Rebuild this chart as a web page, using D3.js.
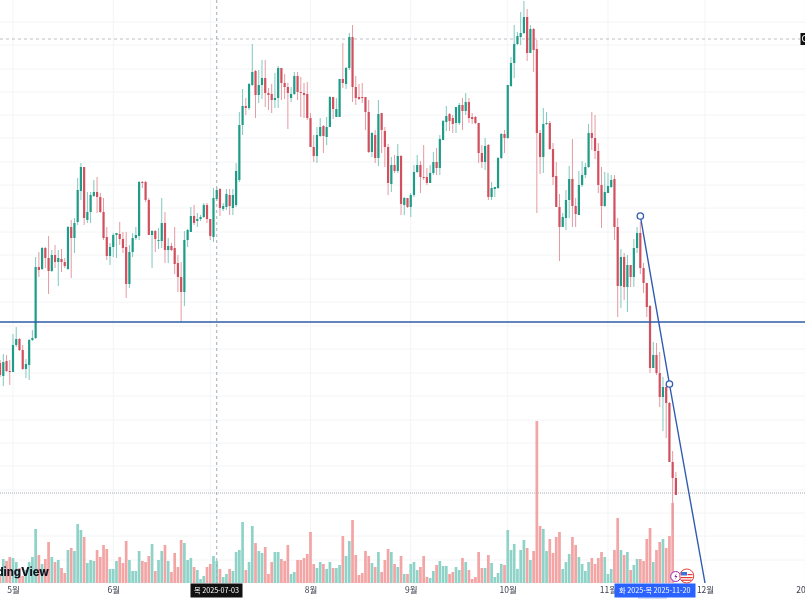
<!DOCTYPE html>
<html>
<head>
<meta charset="utf-8">
<script src="https://cdn.jsdelivr.net/npm/d3@7"></script>
<style>
  html, body { margin: 0; padding: 0; background: #fff; overflow: hidden; }
  svg { display: block; }
  text { font-family: "Noto Sans CJK KR", "Noto Sans", sans-serif; }
</style>
</head>
<body>
<svg id="chart" width="805" height="600"></svg>
<script>
const firstDay = "2025-04-27";
const opens = [
  93.7,92.4,93.9,92.9,92.8,95.5,96.1,95.0,93.1,93.5,
  96.0,96.2,103.3,103.1,105.2,104.2,102.9,104.5,103.8,104.1,
  103.8,103.1,107.3,106.2,107.8,110.9,113.3,108.0,108.8,110.4,
  110.8,110.3,108.8,106.3,104.4,105.3,106.5,106.6,106.1,105.3,
  101.6,104.8,106.2,106.4,111.8,111.8,110.0,106.5,106.9,105.9,
  105.9,107.7,105.0,105.4,105.2,103.7,102.3,100.8,106.0,106.8,
  108.4,107.9,108.1,108.3,109.5,108.1,106.3,110.1,111.1,109.1,
  109.3,110.5,109.2,109.5,112.0,117.5,119.4,119.2,121.5,122.9,
  120.5,121.5,122.2,120.7,120.6,120.0,120.2,123.2,121.7,121.3,
  120.2,120.6,122.4,120.8,120.7,120.6,118.2,115.3,114.4,116.4,
  117.4,116.3,117.3,120.3,118.3,118.3,122.1,121.6,123.2,126.3,
  121.3,120.3,120.3,120.3,118.8,114.8,116.5,114.2,118.7,116.9,
  115.3,111.6,113.5,112.9,114.4,109.5,110.2,109.3,110.5,112.8,
  113.5,112.3,112.3,111.7,112.7,113.8,113.2,116.0,117.8,118.6,
  118.2,117.7,117.7,119.5,118.9,119.8,118.3,118.3,117.7,114.7,
  113.8,115.5,110.3,111.1,111.2,114.2,116.6,116.2,121.4,123.7,
  125.6,126.3,126.7,128.3,124.7,127.1,125.1,116.7,114.3,117.6,
  117.7,115.1,112.4,109.3,107.3,108.2,110.0,112.1,109.4,108.5,
  111.5,112.5,113.3,116.7,116.2,114.9,111.5,109.4,110.7,111.3,
  112.1,107.3,101.4,104.3,101.3,103.5,102.3,105.2,106.7,103.2,
  101.7,99.4,93.2,94.5,92.7,90.3,91.3,89.7,83.8,82.2
];
const closes = [
  92.5,93.8,92.9,92.8,95.5,96.1,95.0,93.1,93.6,96.0,
  96.2,103.3,103.0,105.2,104.2,102.9,104.5,103.8,104.2,103.8,
  103.4,107.3,106.2,107.7,111.0,113.3,108.2,108.8,110.5,110.8,
  110.3,108.8,106.2,104.4,105.3,106.5,106.7,106.1,105.2,101.6,
  104.8,106.2,106.5,111.8,111.7,110.0,106.5,106.9,106.1,106.0,
  107.7,105.0,105.4,105.0,103.6,102.3,100.8,106.0,107.0,108.4,
  107.7,108.1,108.3,109.5,108.1,106.4,110.2,111.0,109.2,109.4,
  110.6,109.4,110.5,112.9,117.5,119.4,119.2,121.6,122.8,120.5,
  121.5,122.2,120.7,120.5,120.0,120.2,123.2,121.7,121.3,120.7,
  120.6,122.4,120.8,120.7,120.5,118.2,115.3,114.4,116.5,117.3,
  116.4,117.3,120.3,119.1,119.1,122.1,121.7,123.2,126.3,121.3,
  120.2,120.1,120.2,118.8,114.8,116.7,114.2,118.6,117.0,115.3,
  111.7,113.5,112.9,114.4,109.6,110.2,109.3,110.5,112.8,113.5,
  112.3,112.2,111.7,112.7,113.8,113.2,116.1,117.9,118.4,117.9,
  117.6,119.3,119.5,118.9,119.8,118.2,118.1,117.7,114.7,113.8,
  115.4,110.3,111.2,111.3,114.2,116.6,116.2,121.5,123.7,125.6,
  126.4,126.7,128.3,124.7,127.1,125.0,116.7,114.3,117.6,117.7,
  115.1,112.3,109.3,107.3,108.3,110.0,112.1,109.4,108.6,111.5,
  112.5,113.3,116.7,116.2,114.9,111.5,109.4,110.8,111.4,112.0,
  107.3,101.4,104.3,101.3,103.5,102.3,105.2,106.7,103.2,101.7,
  99.3,93.2,94.5,92.7,90.3,91.3,89.7,83.8,82.2,80.5
];
const highs = [
  94.0,94.6,94.5,94.0,96.6,97.3,96.2,95.5,94.1,96.1,
  97.0,104.3,104.8,105.3,105.3,106.4,105.0,105.5,105.0,105.1,
  104.2,107.4,108.0,108.2,112.2,113.7,113.3,110.8,110.8,112.0,
  112.3,110.7,110.2,107.3,105.7,106.7,106.7,107.8,106.8,106.8,
  105.5,106.7,107.3,111.9,111.9,111.9,110.2,107.0,107.0,107.2,
  110.2,108.8,106.2,105.7,107.3,104.5,103.8,106.9,107.1,109.3,
  109.5,108.7,108.5,109.7,109.7,108.1,111.2,111.3,111.2,109.7,
  111.1,111.1,111.1,113.7,118.8,121.1,120.2,121.7,125.6,123.0,
  123.0,124.0,124.0,121.2,121.6,122.7,123.4,123.2,122.6,121.7,
  121.3,122.8,122.8,122.3,121.7,121.8,118.7,116.5,117.3,118.2,
  117.5,118.3,120.4,120.3,120.2,122.1,125.7,123.3,126.7,127.5,
  122.4,121.6,121.7,120.3,120.0,116.8,117.0,120.0,118.7,117.3,
  115.6,114.3,114.5,115.6,114.5,110.3,110.2,110.7,113.5,114.5,
  113.9,115.5,113.2,113.5,114.8,115.2,116.5,118.0,119.4,118.7,
  118.5,119.3,119.7,120.2,120.7,120.2,118.7,118.4,117.7,115.5,
  116.2,115.6,111.8,111.3,114.3,116.7,117.0,121.5,124.3,127.5,
  126.8,128.8,129.9,129.1,127.5,127.2,126.0,117.0,119.2,118.8,
  117.9,115.7,113.8,110.6,108.7,111.0,113.4,116.1,110.2,112.9,
  113.9,113.7,117.6,118.8,118.5,115.7,113.3,112.8,112.7,112.5,
  112.5,108.2,105.1,104.7,104.5,103.5,106.1,107.3,107.8,103.7,
  101.7,99.5,95.8,95.7,94.8,92.3,91.5,89.8,84.9,82.8
];
const lows = [
  92.3,91.4,92.8,91.5,92.8,95.3,94.9,93.0,92.2,92.0,
  95.9,96.1,102.3,103.0,103.2,100.6,102.8,103.2,101.4,102.8,
  103.2,103.0,102.2,104.7,107.5,110.0,107.5,107.7,107.7,110.3,
  108.7,108.7,106.0,104.0,103.5,104.3,104.2,105.5,104.7,100.2,
  101.2,104.3,106.0,106.0,111.2,109.8,106.5,103.2,104.8,105.1,
  105.2,103.7,103.7,104.9,102.6,100.8,97.8,99.4,105.3,106.8,
  107.5,107.3,107.9,108.2,107.7,106.0,105.8,109.9,108.4,108.9,
  109.0,108.5,108.5,109.3,111.8,116.5,118.5,119.0,121.4,118.2,
  119.7,120.1,119.3,119.0,118.7,119.2,119.2,120.0,120.1,117.1,
  119.8,120.5,120.0,118.3,118.2,118.0,115.3,113.8,113.7,116.3,
  114.7,115.5,117.3,118.1,118.3,118.3,121.2,121.1,123.0,119.8,
  119.5,120.0,119.7,117.0,114.7,114.3,113.7,113.4,114.7,113.3,
  110.5,110.8,112.7,112.7,108.5,108.5,109.2,108.3,110.3,112.7,
  110.7,112.0,111.5,111.7,112.5,112.5,112.5,116.0,116.9,116.9,
  116.7,116.7,117.5,117.0,118.5,117.7,117.6,117.6,113.7,113.2,
  113.0,110.0,110.0,110.3,111.1,114.1,114.7,116.1,121.3,122.2,
  125.5,125.5,126.6,123.9,124.7,122.8,108.7,112.6,112.7,117.5,
  115.0,111.5,109.3,103.9,107.3,107.0,108.2,107.3,107.3,108.5,
  111.3,112.2,113.2,115.0,114.1,110.7,107.2,109.3,110.7,111.2,
  106.0,98.3,99.2,100.0,98.8,101.3,101.3,104.7,102.6,100.7,
  98.3,92.7,93.2,92.5,89.3,86.9,86.2,83.8,77.0,80.5
];
const volumes = [
  7,24,22,26,25,21,15,7,13,21,
  26,54,28,19,24,41,26,21,23,15,
  10,33,35,32,59,53,46,20,23,22,
  33,26,38,34,14,14,22,26,20,42,
  23,12,12,32,22,21,27,39,12,23,
  32,38,22,11,30,16,43,40,23,25,
  16,13,4,7,16,19,27,22,14,6,
  9,14,12,31,33,61,13,21,57,40,
  32,30,36,9,21,31,31,24,22,38,
  9,11,23,23,25,29,51,19,15,21,
  19,14,21,15,15,18,47,27,42,63,
  28,8,10,32,27,20,16,31,11,23,
  34,31,19,16,27,9,9,19,21,13,
  16,27,6,5,12,18,22,17,17,9,
  11,16,13,25,21,13,4,6,31,15,
  15,28,20,6,10,19,18,53,33,39,
  14,33,43,35,23,32,162,57,54,32,
  44,30,46,51,14,21,29,46,38,26,
  19,12,21,25,19,25,31,26,9,14,
  33,65,33,28,31,13,18,24,24,22,
  44,55,21,33,41,44,35,47,80,0
];

// the july label sits behind the crosshair date tag, so it stays empty
const monthDates = ["2025-05-01","2025-06-01","2025-07-01","2025-08-01","2025-09-01","2025-10-01","2025-11-01","2025-12-01","2026-01-01"];
const monthLabels = ["5월","6월","","8월","9월","10월","11월","12월","2026"];
const gridPrices = [127.8,125.5,123.1,120.8,118.5,116.2,113.8,111.5,109.2,106.8,104.5,102.1,99.8,97.4,95.1,92.7,90.4,88.0,85.7,83.4,81.0,78.7,76.4,74.0];

const supportPrice = 97.8;
const highPrice = 126.1;
const lastPrice = 80.7;
const crossDate = "2025-07-03";
const trendDates = ["2025-11-11","2025-11-20","2025-12-01"];
const trendPrices = [108.4,91.6,71.7];

const width = 805;
const height = 600;
const paneBottom = 583;

const parseDay = d3.utcParse("%Y-%m-%d");
const candles = opens.map((o, i) => ({
  date: d3.utcDay.offset(parseDay(firstDay), i),
  open: o, high: highs[i], low: lows[i], close: closes[i], volume: volumes[i],
}));

const x = d3.scaleUtc()
  .domain([parseDay("2025-05-01"), parseDay("2025-12-01")])
  .range([13, 705]);
const y = d3.scaleLinear().domain([70, 130]).range([height, 0]);
const yVol = d3.scaleLinear().domain([0, 200]).range([paneBottom, paneBottom - 200]);

const upBody = "#1f9c88", downBody = "#d24f5e";
const upWick = "#7fc9bd", downWick = "#e59aa3";
const upVol = "#8fd3c8", downVol = "#f3a4a4";
const isUp = (d) => d.close >= d.open;

const svg = d3.select("#chart");
const root = svg.append("g").style("filter", "blur(0.45px)");

// grid
root.append("g").selectAll("line").data(gridPrices).join("line")
  .attr("x1", 0).attr("x2", width)
  .attr("y1", (d) => y(d)).attr("y2", (d) => y(d))
  .attr("stroke", "#f3f4f6");
root.append("g").selectAll("line").data(monthDates).join("line")
  .attr("x1", (d) => x(parseDay(d))).attr("x2", (d) => x(parseDay(d)))
  .attr("y1", 0).attr("y2", paneBottom)
  .attr("stroke", "#f3f4f6");

// volume pane
root.append("g").selectAll("rect").data(candles).join("rect")
  .attr("x", (d) => x(d.date) - 1.35)
  .attr("width", 2.7)
  .attr("y", (d) => yVol(d.volume))
  .attr("height", (d) => paneBottom - yVol(d.volume))
  .attr("fill", (d) => (isUp(d) ? upVol : downVol));

// dashed and dotted price lines
root.append("line")
  .attr("x1", 0).attr("x2", 800)
  .attr("y1", y(highPrice)).attr("y2", y(highPrice))
  .attr("stroke", "#bcbfc6").attr("stroke-dasharray", "3 3");
root.append("line")
  .attr("x1", 0).attr("x2", width)
  .attr("y1", y(lastPrice)).attr("y2", y(lastPrice))
  .attr("stroke", "#a9adb5").attr("stroke-dasharray", "1 1");
root.append("line")
  .attr("x1", x(parseDay(crossDate))).attr("x2", x(parseDay(crossDate)))
  .attr("y1", 0).attr("y2", paneBottom)
  .attr("stroke", "#a6a9b0").attr("stroke-dasharray", "3 3");

// candles
const candle = root.append("g").selectAll("g").data(candles).join("g");
candle.append("line")
  .attr("x1", (d) => x(d.date)).attr("x2", (d) => x(d.date))
  .attr("y1", (d) => y(d.high)).attr("y2", (d) => y(d.low))
  .attr("stroke", (d) => (isUp(d) ? upWick : downWick))
  .attr("stroke-width", 1);
candle.append("rect")
  .attr("x", (d) => x(d.date) - 1.1)
  .attr("width", 2.2)
  .attr("y", (d) => y(Math.max(d.open, d.close)))
  .attr("height", (d) => Math.max(1, Math.abs(y(d.open) - y(d.close))))
  .attr("fill", (d) => (isUp(d) ? upBody : downBody));

// support line and drawn trend line
root.append("line")
  .attr("x1", 0).attr("x2", width)
  .attr("y1", y(supportPrice)).attr("y2", y(supportPrice))
  .attr("stroke", "#2b5ea7").attr("stroke-width", 1.4);

const trend = trendDates.map((d, i) => [x(parseDay(d)), y(trendPrices[i])]);
root.append("path")
  .attr("d", d3.line()(trend))
  .attr("fill", "none")
  .attr("stroke", "#2f5cb0").attr("stroke-width", 1.4);
root.append("g").selectAll("circle").data(trend.slice(0, 2)).join("circle")
  .attr("cx", (d) => d[0]).attr("cy", (d) => d[1]).attr("r", 3.2)
  .attr("fill", "#fff").attr("stroke", "#2f5cb0").attr("stroke-width", 1.3);

// time axis
const xAxis = d3.axisBottom(x)
  .tickValues(monthDates.map(parseDay))
  .tickFormat((d, i) => monthLabels[i])
  .tickSize(0)
  .tickPadding(4);
const axisG = root.append("g").attr("transform", `translate(0,${paneBottom})`).call(xAxis);
axisG.select(".domain").remove();
axisG.selectAll("text")
  .attr("fill", "#3d4250")
  .style("font-size", "8.5px")
  .style("font-family", '"Noto Sans CJK KR", sans-serif');

// crosshair date label
root.append("rect")
  .attr("x", 190.5).attr("y", 583.5).attr("width", 52).attr("height", 14).attr("fill", "#111");
root.append("text")
  .attr("x", 216.5).attr("y", 593.3).attr("text-anchor", "middle")
  .attr("fill", "#fff").style("font-size", "7.2px").text("목 2025-07-03");

// selected range label
root.append("rect")
  .attr("x", 638).attr("y", 596).attr("width", 29).attr("height", 3).attr("fill", "#d5def8");
root.append("rect")
  .attr("x", 614.5).attr("y", 583.5).attr("width", 81).attr("height", 14).attr("fill", "#2962ff");
root.append("text")
  .attr("x", 619).attr("y", 593.3).attr("fill", "#fff").style("font-size", "7.2px").text("화 2025-");
root.append("text")
  .attr("x", 690.5).attr("y", 593.3).attr("text-anchor", "end")
  .attr("fill", "#fff").style("font-size", "7.2px").text("목 2025-11-20");

// price tag cut by the right edge
root.append("rect")
  .attr("x", 800.5).attr("y", 33).attr("width", 6).attr("height", 12).attr("fill", "#111");
root.append("text")
  .attr("x", 801.5).attr("y", 42).attr("fill", "#fff").style("font-size", "9px").text("C");

// watermark, runs off the left edge
root.append("text")
  .attr("x", 49).attr("y", 576).attr("text-anchor", "end")
  .attr("fill", "#131722")
  .style("font-size", "11.2px").style("font-weight", 800)
  .style("font-family", "Inter, sans-serif")
  .text("TradingView");

// event badges
const badges = root.append("g");
badges.append("circle").attr("cx", 675.7).attr("cy", 576.5).attr("r", 5)
  .attr("fill", "#fff").attr("stroke", "#9c27b0");
badges.append("path").attr("d", "M676.8 573 L674.4 577 L676 577 L674.8 580 L677.4 576 L675.8 576 Z")
  .attr("fill", "#7b1fa2");
badges.append("circle").attr("cx", 686.8).attr("cy", 576).attr("r", 7)
  .attr("fill", "#fff").attr("stroke", "#e53935");
badges.append("rect").attr("x", 681).attr("y", 572).attr("width", 6).attr("height", 3.5).attr("fill", "#3f6fd8");
badges.append("rect").attr("x", 681).attr("y", 577).attr("width", 11.5).attr("height", 1.2).attr("fill", "#e53935");
badges.append("rect").attr("x", 682).attr("y", 579.6).attr("width", 9.5).attr("height", 1.2).attr("fill", "#e53935");
badges.append("rect").attr("x", 687.5).attr("y", 574).attr("width", 5).attr("height", 1.2).attr("fill", "#e53935");
</script>
</body>
</html>
